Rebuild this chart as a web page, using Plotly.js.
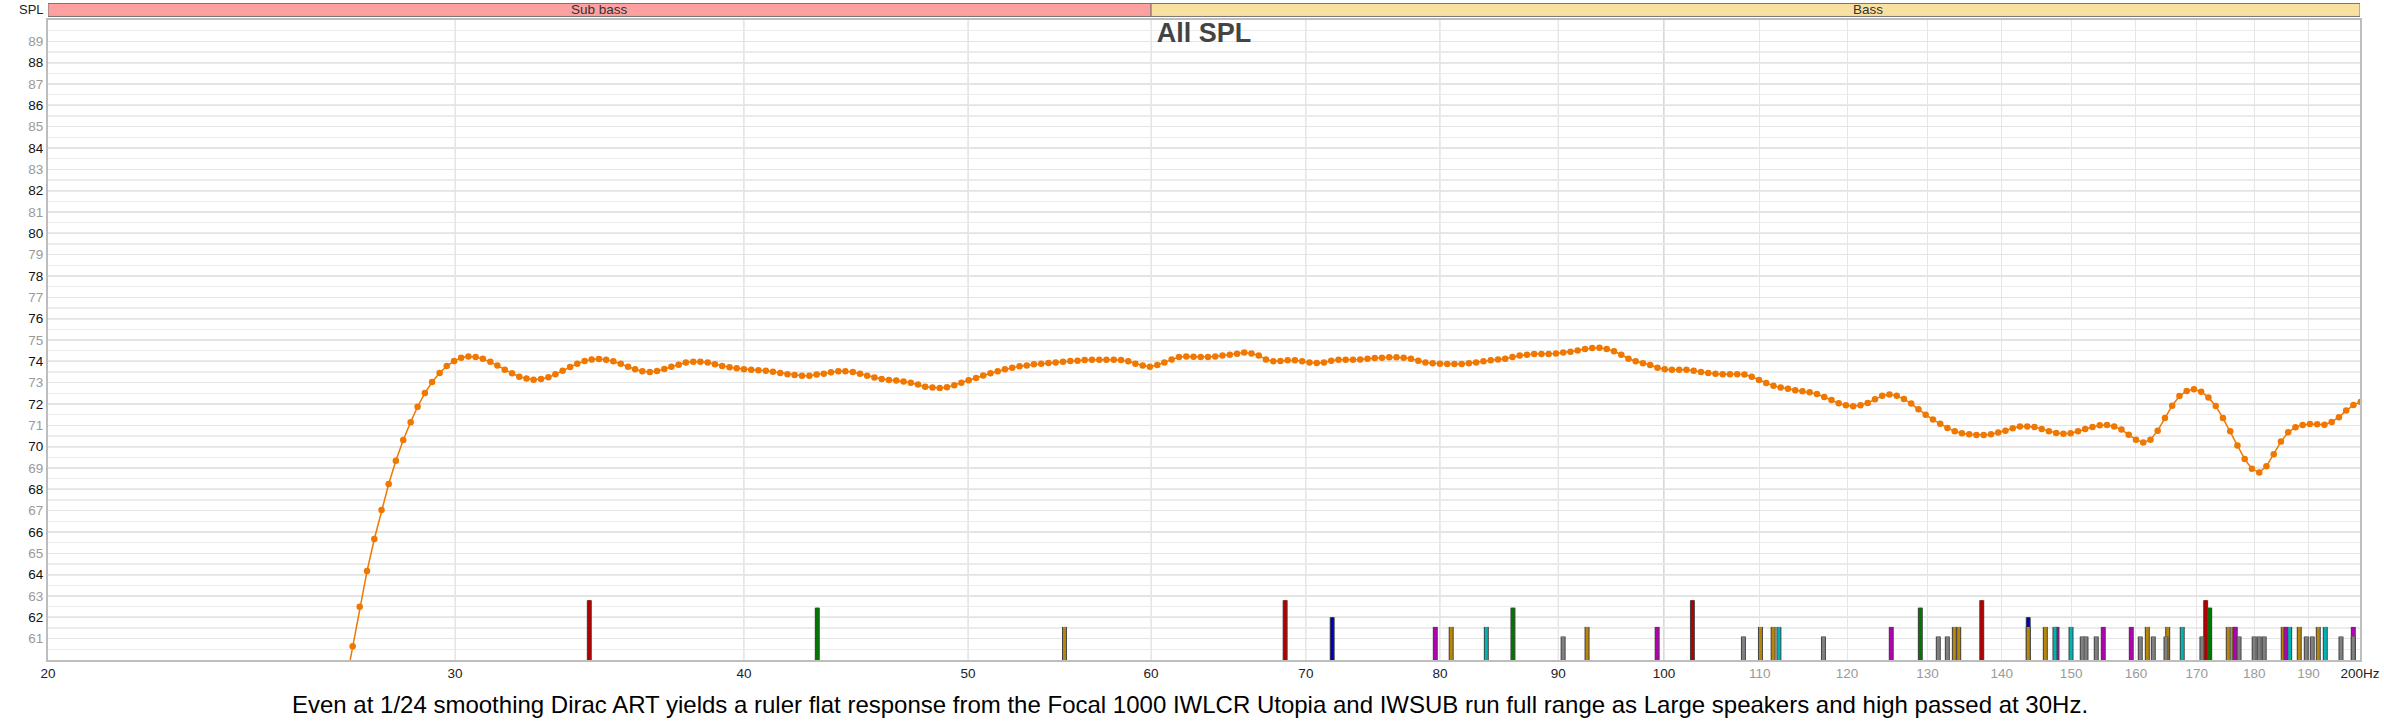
<!DOCTYPE html>
<html>
<head>
<meta charset="utf-8">
<script src="https://cdn.plot.ly/plotly-3.0.1.min.js"></script>
<style>
  html, body { margin: 0; padding: 0; background: #fff; }
  #chart { width: 2384px; height: 725px; }
</style>
</head>
<body>
<div id="chart"></div>
<script>
// measurement, 1/96 octave points (Hz)
var freqHz = [
  26.70, 26.89, 27.09, 27.28, 27.48, 27.68, 27.88, 28.08,
  28.28, 28.49, 28.70, 28.90, 29.11, 29.32, 29.54, 29.75,
  29.97, 30.18, 30.40, 30.62, 30.84, 31.07, 31.29, 31.52,
  31.75, 31.98, 32.21, 32.44, 32.68, 32.92, 33.15, 33.39,
  33.64, 33.88, 34.13, 34.37, 34.62, 34.87, 35.12, 35.38,
  35.64, 35.89, 36.15, 36.42, 36.68, 36.95, 37.21, 37.48,
  37.75, 38.03, 38.30, 38.58, 38.86, 39.14, 39.43, 39.71,
  40.00, 40.29, 40.58, 40.88, 41.17, 41.47, 41.77, 42.07,
  42.38, 42.69, 43.00, 43.31, 43.62, 43.94, 44.25, 44.58,
  44.90, 45.22, 45.55, 45.88, 46.21, 46.55, 46.89, 47.23,
  47.57, 47.91, 48.26, 48.61, 48.96, 49.32, 49.67, 50.03,
  50.40, 50.76, 51.13, 51.50, 51.87, 52.25, 52.63, 53.01,
  53.39, 53.78, 54.17, 54.56, 54.96, 55.36, 55.76, 56.16,
  56.57, 56.98, 57.39, 57.81, 58.23, 58.65, 59.07, 59.50,
  59.93, 60.37, 60.80, 61.24, 61.69, 62.14, 62.59, 63.04,
  63.50, 63.96, 64.42, 64.89, 65.36, 65.83, 66.31, 66.79,
  67.27, 67.76, 68.25, 68.74, 69.24, 69.74, 70.25, 70.76,
  71.27, 71.79, 72.31, 72.83, 73.36, 73.89, 74.43, 74.97,
  75.51, 76.06, 76.61, 77.16, 77.72, 78.29, 78.85, 79.42,
  80.00, 80.58, 81.16, 81.75, 82.34, 82.94, 83.54, 84.15,
  84.76, 85.37, 85.99, 86.61, 87.24, 87.87, 88.51, 89.15,
  89.80, 90.45, 91.10, 91.76, 92.43, 93.10, 93.77, 94.45,
  95.14, 95.83, 96.52, 97.22, 97.92, 98.63, 99.35, 100.07,
  100.79, 101.52, 102.26, 103.00, 103.75, 104.50, 105.26, 106.02,
  106.79, 107.56, 108.34, 109.13, 109.92, 110.71, 111.52, 112.32,
  113.14, 113.96, 114.78, 115.61, 116.45, 117.30, 118.15, 119.00,
  119.86, 120.73, 121.61, 122.49, 123.38, 124.27, 125.17, 126.08,
  126.99, 127.91, 128.84, 129.77, 130.71, 131.66, 132.61, 133.58,
  134.54, 135.52, 136.50, 137.49, 138.49, 139.49, 140.50, 141.52,
  142.54, 143.58, 144.62, 145.67, 146.72, 147.78, 148.85, 149.93,
  151.02, 152.11, 153.22, 154.33, 155.45, 156.57, 157.71, 158.85,
  160.00, 161.16, 162.33, 163.50, 164.69, 165.88, 167.08, 168.29,
  169.51, 170.74, 171.98, 173.23, 174.48, 175.75, 177.02, 178.30,
  179.59, 180.90, 182.21, 183.53, 184.86, 186.20, 187.55, 188.90,
  190.27, 191.65, 193.04, 194.44, 195.85, 197.27, 198.70, 200.14
];

// All SPL, dB
var splDb = [
  57.00, 58.80, 60.65, 62.50, 64.17, 65.67, 67.03, 68.25,
  69.34, 70.31, 71.15, 71.87, 72.51, 73.03, 73.45, 73.78,
  74.01, 74.17, 74.23, 74.20, 74.12, 73.98, 73.81, 73.61,
  73.44, 73.28, 73.19, 73.14, 73.17, 73.25, 73.39, 73.56,
  73.73, 73.89, 74.01, 74.09, 74.11, 74.08, 74.00, 73.89,
  73.75, 73.63, 73.53, 73.50, 73.55, 73.64, 73.75, 73.84,
  73.94, 73.98, 73.98, 73.94, 73.86, 73.78, 73.72, 73.67,
  73.63, 73.61, 73.58, 73.56, 73.51, 73.45, 73.40, 73.36,
  73.33, 73.33, 73.38, 73.42, 73.49, 73.53, 73.53, 73.50,
  73.42, 73.33, 73.24, 73.17, 73.13, 73.10, 73.05, 73.00,
  72.91, 72.81, 72.77, 72.75, 72.78, 72.88, 73.00, 73.11,
  73.22, 73.34, 73.44, 73.53, 73.63, 73.70, 73.77, 73.81,
  73.86, 73.89, 73.92, 73.95, 73.98, 74.02, 74.03, 74.06,
  74.08, 74.08, 74.08, 74.08, 74.06, 74.00, 73.89, 73.80,
  73.75, 73.83, 73.95, 74.09, 74.20, 74.23, 74.22, 74.20,
  74.20, 74.23, 74.27, 74.31, 74.36, 74.41, 74.37, 74.27,
  74.09, 74.00, 74.02, 74.05, 74.05, 74.00, 73.94, 73.92,
  73.95, 74.03, 74.08, 74.08, 74.08, 74.09, 74.12, 74.16,
  74.17, 74.19, 74.19, 74.17, 74.12, 74.03, 73.95, 73.91,
  73.89, 73.88, 73.88, 73.88, 73.91, 73.95, 74.00, 74.05,
  74.09, 74.12, 74.20, 74.27, 74.31, 74.34, 74.34, 74.34,
  74.37, 74.41, 74.45, 74.51, 74.58, 74.62, 74.64, 74.58,
  74.47, 74.31, 74.12, 74.00, 73.91, 73.83, 73.70, 73.63,
  73.61, 73.61, 73.61, 73.56, 73.50, 73.45, 73.42, 73.39,
  73.39, 73.39, 73.38, 73.28, 73.13, 72.99, 72.85, 72.77,
  72.71, 72.64, 72.60, 72.55, 72.47, 72.33, 72.19, 72.03,
  71.94, 71.89, 71.94, 72.05, 72.22, 72.39, 72.44, 72.39,
  72.23, 72.02, 71.75, 71.50, 71.27, 71.08, 70.88, 70.72,
  70.63, 70.58, 70.55, 70.55, 70.58, 70.66, 70.75, 70.86,
  70.94, 70.95, 70.92, 70.83, 70.72, 70.64, 70.61, 70.63,
  70.72, 70.83, 70.92, 71.00, 71.02, 70.95, 70.80, 70.56,
  70.33, 70.19, 70.33, 70.75, 71.34, 71.92, 72.37, 72.61,
  72.69, 72.58, 72.31, 71.91, 71.34, 70.72, 70.05, 69.42,
  68.96, 68.79, 69.08, 69.64, 70.24, 70.67, 70.91, 71.02,
  71.06, 71.05, 71.03, 71.16, 71.38, 71.69, 71.95, 72.10
];

// room mode markers (Hz), one list per colour, and the level each group reaches
var modeFreqRed     = [34.29, 68.57, 102.87, 137.22, 171.5];
var modeFreqGreen   = [43.03, 86.03, 129.08, 172.19];
var modeFreqBlue    = [71.86, 143.73];
var modeFreqGold    = [55.04, 80.9, 92.62, 110.08, 111.48, 133.53, 134.11, 143.73, 146.19,
                       161.82, 165.14, 175.41, 176.4, 185.28, 188.26, 191.86];
var modeFreqMagenta = [79.63, 99.32, 125.4, 147.9, 154.88, 159.26, 176.64, 185.78, 198.67];
var modeFreqCyan    = [83.78, 112.12, 147.6, 149.98, 167.55, 186.47, 193.2];
var modeFreqGray    = [90.44, 108.23, 117.21, 131.41, 132.6, 151.67, 152.23, 153.8, 160.69,
                       162.79, 164.86, 170.87, 177.3, 180.0, 180.9, 181.8, 189.58, 190.71,
                       196.25, 198.67];
var modeLevels      = [62.8, 62.45, 62.0, 61.55, 61.55, 61.55, 61.1];

// frequency bands along the top
var bandNames = ['Sub bass', 'Bass'];
var bandEdges = [20, 60, 250];

// axis ticks
var xTickVals   = [20, 30, 40, 50, 60, 70, 80, 90, 100, 110, 120, 130, 140, 150, 160, 170, 180, 190, 200];
var xTickLabels = ['20', '30', '40', '50', '60', '70', '80', '90', '100', '110', '120', '130', '140',
                   '150', '160', '170', '180', '190', '200Hz'];
var yTickVals   = [61, 62, 63, 64, 65, 66, 67, 68, 69, 70, 71, 72, 73, 74, 75,
                   76, 77, 78, 79, 80, 81, 82, 83, 84, 85, 86, 87, 88, 89];

var captionText = 'Even at 1/24 smoothing Dirac ART yields a ruler flat response from the Focal 1000 IWLCR Utopia ' +
  'and IWSUB run full range as Large speakers and high passed at 30Hz.';


function drawChart() {
	var FONT = '"Liberation Sans", Arial, Helvetica, sans-serif';
	var X_MIN = 20, X_MAX = 200, Y_MIN = 60, Y_MAX = 90;

	var traces = [];

	// mode markers: vertical bars from the bottom of the plot
	var modeLists = [modeFreqRed, modeFreqGreen, modeFreqBlue, modeFreqGold, modeFreqMagenta, modeFreqCyan, modeFreqGray];
	var modeColors = ['#b40000', '#007800', '#0000b4', '#b8860b', '#b400b4', '#00b4b4', '#808080'];

	modeLists.forEach(function(list, g) {
		var xs = [], ys = [];
		list.forEach(function(f) {
			xs.push(f, f, null);
			ys.push(Y_MIN, modeLevels[g], null);
		});
		traces.push({
			x: xs, y: ys, type: 'scatter', mode: 'lines',
			line: {color: '#444', width: 5},
			hoverinfo: 'skip', showlegend: false
		});
		traces.push({
			x: xs, y: ys, type: 'scatter', mode: 'lines',
			line: {color: modeColors[g], width: 3},
			hoverinfo: 'skip', showlegend: false
		});
	});

	traces.push({
		x: freqHz,
		y: splDb,
		type: 'scatter',
		mode: 'lines+markers',
		name: 'All SPL',
		line: {color: '#f07800', width: 1.5},
		marker: {color: '#f07800', size: 6.5},
		showlegend: false
	});

	// tick labels: light grey above 100 Hz on x, odd values light grey on y
	var xText = xTickLabels.map(function(t, i) {
		var v = xTickVals[i];
		var c = (v > 100 && v < 200) ? '#9a9a9a' : '#222';
		return '<span style="color:' + c + '">' + t + '</span>';
	});
	var yText = yTickVals.map(function(v) {
		var c = (v % 2) ? '#9a9a9a' : '#111';
		return '<span style="color:' + c + '">' + v + '</span>';
	});

	var shapes = [];

	// stronger grid lines
	xTickVals.forEach(function(v) {
		if (v > X_MIN && v <= 100) {
			shapes.push({
				type: 'line', layer: 'between', xref: 'x', yref: 'paper',
				x0: v, x1: v, y0: 0, y1: 1,
				line: {color: v === 100 ? '#b0b0b0' : '#d6d6d6', width: 1}
			});
		}
	});
	yTickVals.forEach(function(v) {
		if (v % 2 === 0) {
			shapes.push({
				type: 'line', layer: 'between', xref: 'paper', yref: 'y',
				x0: 0, x1: 1, y0: v, y1: v,
				line: {color: '#d3d3d3', width: 1.5}
			});
		}
	});

	// band strip above the plot
	var bandColors = ['#fca0a0', '#f8e0a0'];
	var BAND_Y0 = 1.0055, BAND_Y1 = 1.0258;
	var annotations = [];
	bandNames.forEach(function(name, i) {
		var lo = bandEdges[i], hi = bandEdges[i + 1];
		shapes.push({
			type: 'rect', layer: 'above', xref: 'x', yref: 'paper',
			x0: Math.max(lo, X_MIN), x1: Math.min(hi, X_MAX), y0: BAND_Y0, y1: BAND_Y1,
			fillcolor: bandColors[i], line: {color: '#777', width: 1}
		});
		annotations.push({
			xref: 'x', yref: 'paper', x: Math.log10(Math.sqrt(lo * hi)), y: (BAND_Y0 + BAND_Y1) / 2,
			text: name, showarrow: false, xanchor: 'center', yanchor: 'middle',
			font: {family: FONT, size: 13.5, color: '#333'}
		});
	});
	annotations.push({
		xref: 'paper', yref: 'paper', x: 0, y: (BAND_Y0 + BAND_Y1) / 2, xshift: -2,
		text: 'SPL', showarrow: false, xanchor: 'right', yanchor: 'middle',
		font: {family: FONT, size: 13, color: '#222'}
	});
	annotations.push({
		xref: 'paper', yref: 'paper', x: 0.494, y: -0.07,
		text: captionText, showarrow: false, xanchor: 'center', yanchor: 'middle',
		font: {family: FONT, size: 24, color: '#000'}
	});

	var layout = {
		width: 2384,
		height: 725,
		margin: {l: 48, r: 24, t: 20, b: 65, pad: 0},
		paper_bgcolor: '#fff',
		plot_bgcolor: '#fff',
		font: {family: FONT, size: 13.5, color: '#222'},
		showlegend: false,
		title: {
			text: '<b>All SPL</b>',
			font: {family: FONT, size: 27, color: '#444'},
			x: 0.5, xref: 'paper', xanchor: 'center',
			y: 0.9545, yref: 'container', yanchor: 'middle'
		},
		xaxis: {
			type: 'log',
			range: [Math.log10(X_MIN), Math.log10(X_MAX)],
			tickmode: 'array', tickvals: xTickVals, ticktext: xText,
			ticks: '', showgrid: true, gridcolor: '#e6e6e6', gridwidth: 1,
			showline: true, linecolor: '#bdbdbd', linewidth: 2, mirror: true,
			zeroline: false, tickfont: {family: FONT, size: 13.5},
			fixedrange: true
		},
		yaxis: {
			range: [Y_MIN, Y_MAX],
			tickmode: 'array', tickvals: yTickVals, ticktext: yText,
			ticks: '', showgrid: true, gridcolor: '#e4e4e4', gridwidth: 1.5,
			minor: {dtick: 0.5, showgrid: true, gridcolor: '#ebebeb', gridwidth: 1.5, ticks: ''},
			showline: true, linecolor: '#bdbdbd', linewidth: 2, mirror: true,
			zeroline: false, tickfont: {family: FONT, size: 13.5},
			fixedrange: true
		},
		shapes: shapes,
		annotations: annotations
	};

	Plotly.newPlot('chart', traces, layout, {staticPlot: true, displayModeBar: false});
}

drawChart();
</script>
</body>
</html>
